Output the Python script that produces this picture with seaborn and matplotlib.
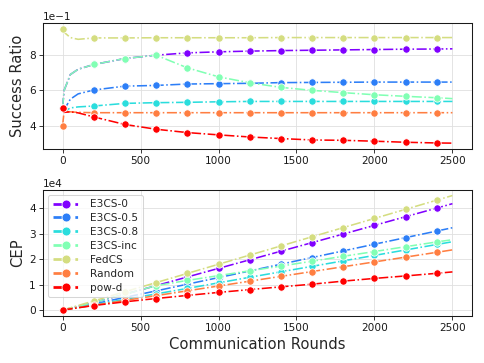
import numpy as np
import matplotlib
matplotlib.use("Agg")
import matplotlib.pyplot as plt
import seaborn as sns

# Data
names = ["E3CS-0", "E3CS-0.5", "E3CS-0.8", "E3CS-inc", "FedCS", "Random", "pow-d"]

rounds_sr = [0, 10, 50, 100, 200, 400, 600, 800, 1000, 1200, 1400, 1600, 1800, 2000, 2200, 2400, 2500]
sr_e3cs_0 = [0.50, 0.60, 0.69, 0.72, 0.747, 0.781, 0.800, 0.813, 0.819, 0.823, 0.826, 0.828, 0.830, 0.832, 0.834, 0.835, 0.836]
sr_e3cs_05 = [0.50, 0.49, 0.55, 0.58, 0.602, 0.624, 0.628, 0.636, 0.638, 0.640, 0.644, 0.645, 0.646, 0.647, 0.647, 0.647, 0.647]
sr_e3cs_08 = [0.50, 0.48, 0.50, 0.506, 0.511, 0.526, 0.530, 0.532, 0.535, 0.537, 0.537, 0.537, 0.537, 0.537, 0.537, 0.537, 0.537]
sr_e3cs_inc = [0.50, 0.60, 0.69, 0.72, 0.747, 0.781, 0.800, 0.728, 0.677, 0.643, 0.617, 0.600, 0.587, 0.575, 0.566, 0.558, 0.553]
sr_fedcs = [0.951, 0.93, 0.90, 0.89, 0.898, 0.898, 0.899, 0.899, 0.899, 0.899, 0.900, 0.900, 0.900, 0.900, 0.900, 0.900, 0.900]
sr_random = [0.40, 0.48, 0.478, 0.475, 0.473, 0.473, 0.473, 0.473, 0.473, 0.473, 0.473, 0.473, 0.473, 0.473, 0.473, 0.473, 0.473]
sr_powd = [0.50, 0.475, 0.478, 0.472, 0.449, 0.406, 0.379, 0.360, 0.347, 0.335, 0.326, 0.318, 0.316, 0.311, 0.305, 0.301, 0.300]

rounds_cep = [0, 200, 400, 600, 800, 1000, 1200, 1400, 1600, 1800, 2000, 2200, 2400, 2500]
cep_e3cs_0 = [0, 2988, 6248, 9600, 13008, 16380, 19752, 23128, 26496, 29880, 33280, 36696, 40080, 41800]
cep_e3cs_05 = [0, 2408, 4992, 7536, 10176, 12760, 15360, 18032, 20640, 23256, 25880, 28468, 31056, 32350]
cep_e3cs_08 = [0, 2044, 4208, 6360, 8512, 10700, 12888, 15036, 17184, 19332, 21480, 23628, 25776, 26850]
cep_e3cs_inc = [0, 2988, 6248, 9600, 11648, 13540, 15432, 17276, 19200, 21132, 23000, 24904, 26784, 27650]
cep_fedcs = [0, 3600, 7200, 10800, 14400, 18000, 21600, 25200, 28800, 32400, 36000, 39600, 43200, 45000]
cep_random = [0, 1892, 3784, 5676, 7568, 9460, 11352, 13244, 15136, 17028, 18920, 20812, 22704, 23650]
cep_powd = [0, 1796, 3248, 4548, 5760, 6940, 8040, 9128, 10176, 11376, 12440, 13420, 14448, 15000]

sr_series = [sr_e3cs_0, sr_e3cs_05, sr_e3cs_08, sr_e3cs_inc, sr_fedcs, sr_random, sr_powd]
cep_series = [cep_e3cs_0, cep_e3cs_05, cep_e3cs_08, cep_e3cs_inc, cep_fedcs, cep_random, cep_powd]

colors = plt.cm.rainbow(np.linspace(0, 1, len(names)))

sns.set_style("whitegrid", {"axes.edgecolor": "0.1", "grid.color": "0.88",
                            "xtick.bottom": True, "ytick.left": True,
                            "xtick.color": "0.1", "ytick.color": "0.1"})
plt.rcParams["font.family"] = ["DejaVu Sans"]
plt.rcParams["font.size"] = 10

fig, (ax1, ax2) = plt.subplots(2, 1, figsize=(6.4, 4.8))
fig.subplots_adjust(left=0.089, right=0.975, top=0.937, bottom=0.13, hspace=0.325)

mark_sr = [0] + list(range(4, 16))
mark_cep = list(range(0, 13))

for name, c, y in zip(names, colors, sr_series):
    sns.lineplot(x=rounds_sr, y=y, ax=ax1, color=c, linestyle="-.", linewidth=1.5,
                 marker="o", markersize=7, markevery=mark_sr, legend=False)

for name, c, y in zip(names, colors, cep_series):
    sns.lineplot(x=rounds_cep, y=y, ax=ax2, color=c, linestyle="-.", linewidth=1.5,
                 marker="o", markersize=7, markevery=mark_cep, label=name)

ax1.set_yticks([0.4, 0.6, 0.8])
ax1.ticklabel_format(axis="y", style="sci", scilimits=(0, 0))
ax1.set_ylabel("Success Ratio", fontsize=14)
ax1.set_xticks([0, 500, 1000, 1500, 2000, 2500])

ax2.set_yticks([0, 10000, 20000, 30000, 40000])
ax2.ticklabel_format(axis="y", style="sci", scilimits=(0, 0))
ax2.set_ylabel("CEP", fontsize=14)
ax2.set_xlabel("Communication Rounds", fontsize=14)
ax2.set_xticks([0, 500, 1000, 1500, 2000, 2500])

for ax in (ax1, ax2):
    ax.tick_params(labelsize=10, length=3.5, width=0.8)
    for s in ax.spines.values():
        s.set_linewidth(1.0)

leg = ax2.legend(loc="upper left", fontsize=10, labelspacing=0.37,
                 handlelength=2.6, handletextpad=1.0, borderpad=0.4)
for h in leg.legend_handles:
    h.set_linewidth(2.6)
    h.set_markersize(8.5)

fig.savefig("out.png", dpi=75.625)
